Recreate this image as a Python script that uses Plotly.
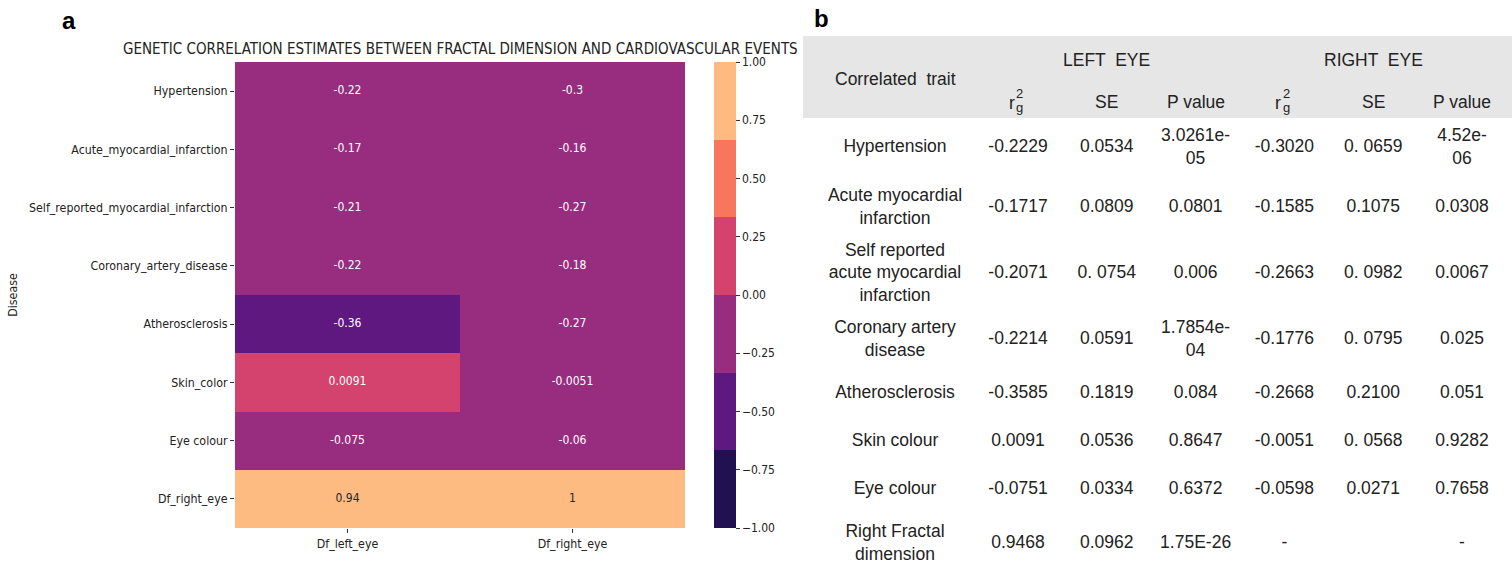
import numpy as np
import plotly.graph_objects as go

# ---------------- data: panel a (heatmap) ----------------
diseases = ["Hypertension", "Acute_myocardial_infarction", "Self_reported_myocardial_infarction",
            "Coronary_artery_disease", "Atherosclerosis", "Skin_color", "Eye colour", "Df_right_eye"]
eyes = ["Df_left_eye", "Df_right_eye"]
rg_left_eye = [-0.22, -0.17, -0.21, -0.22, -0.36, 0.0091, -0.075, 0.94]
rg_right_eye = [-0.3, -0.16, -0.27, -0.18, -0.27, -0.0051, -0.06, 1.0]
cbar_ticks = [-1.0, -0.75, -0.5, -0.25, 0.0, 0.25, 0.5, 0.75, 1.0]
title_a = "GENETIC CORRELATION ESTIMATES BETWEEN FRACTAL DIMENSION AND CARDIOVASCULAR EVENTS"

# ---------------- data: panel b (table) ----------------
traits = ["Hypertension", "Acute myocardial<br>infarction", "Self reported<br>acute myocardial<br>infarction",
          "Coronary artery<br>disease", "Atherosclerosis", "Skin colour", "Eye colour",
          "Right Fractal<br>dimension"]
table_cols = ["rg_L", "se_L", "p_L", "rg_R", "se_R", "p_R"]
rg_L = ["-0.2229", "-0.1717", "-0.2071", "-0.2214", "-0.3585", "0.0091", "-0.0751", "0.9468"]
se_L = ["0.0534", "0.0809", "0. 0754", "0.0591", "0.1819", "0.0536", "0.0334", "0.0962"]
p_L = ["3.0261e-<br>05", "0.0801", "0.006", "1.7854e-<br>04", "0.084", "0.8647", "0.6372", "1.75E-26"]
rg_R = ["-0.3020", "-0.1585", "-0.2663", "-0.1776", "-0.2668", "-0.0051", "-0.0598", "-"]
se_R = ["0. 0659", "0.1075", "0. 0982", "0. 0795", "0.2100", "0. 0568", "0.0271", ""]
p_R = ["4.52e-<br>06", "0.0308", "0.0067", "0.025", "0.051", "0.9282", "0.7658", "-"]
group_headers = {"se_L": "LEFT  EYE", "se_R": "RIGHT  EYE"}
sub_headers = {"se_L": "SE", "p_L": "P value", "se_R": "SE", "p_R": "P value"}

# ---------------- styling ----------------
W, H = 1512, 565
magma6 = ["#221150", "#5f187f", "#982d80", "#d3436e", "#f8765c", "#febb81"]
colorscale = []
for i, c in enumerate(magma6):
    colorscale.append([i / 6, c])
    colorscale.append([(i + 1) / 6, c])

HM_FONT = "DejaVu Sans Condensed, Liberation Sans Narrow, DejaVu Sans"
TB_FONT = "Liberation Sans, Arial"
TB_SIZE = 17.5
HM_TICK = 12.3
TXT = "#222"

def px_x(p):
    return p / W

def px_y(p):
    return (H - p) / H

fig = go.Figure()

# heatmap
z = [[l, r] for l, r in zip(rg_left_eye, rg_right_eye)]
fig.add_trace(go.Heatmap(
    x=eyes, y=diseases, z=z, zmin=-1, zmax=1, colorscale=colorscale,
    xaxis="x", yaxis="y", hoverinfo="skip",
    colorbar=dict(
        x=px_x(714), xanchor="left", y=px_y(62), yanchor="top", xpad=0, ypad=0,
        len=(528 - 62) / H, lenmode="fraction", thickness=22,
        outlinewidth=0, tickmode="array", tickvals=cbar_ticks,
        ticktext=[f"{t:.2f}".replace("-", "\u2212") for t in cbar_ticks],
        ticks="outside", ticklen=4, tickcolor="#333", tickwidth=1,
        tickfont=dict(family=HM_FONT, size=12, color=TXT),
    ),
))

# annotations in heatmap cells
ann_x, ann_y, ann_t, ann_c = [], [], [], []
for d, l, r in zip(diseases, rg_left_eye, rg_right_eye):
    for e, v in zip(eyes, (l, r)):
        ann_x.append(e)
        ann_y.append(d)
        ann_t.append(f"{v:.2g}")
        ann_c.append("#262626" if v > 2 / 3 else "#ffffff")
fig.add_trace(go.Scatter(
    x=ann_x, y=ann_y, text=ann_t, mode="text", xaxis="x", yaxis="y",
    textfont=dict(family=HM_FONT, size=12, color=ann_c), hoverinfo="skip", showlegend=False,
))

# ---------------- table ----------------
columns_data = [rg_L, se_L, p_L, rg_R, se_R, p_R]
rows_all = list(zip(traits, *columns_data))
nlines = [max(s.count("<br>") + 1 for s in row) for row in rows_all]
row_h = np.array([36 + 12 * n for n in nlines], dtype=float)
row_c = np.cumsum(row_h) - row_h / 2
header_h = 82
table_top = 36

fig.add_trace(go.Scatter(
    x=["trait"] * len(traits), y=row_c, text=traits, mode="text", xaxis="x3", yaxis="y2",
    textfont=dict(family=TB_FONT, size=TB_SIZE, color=TXT), hoverinfo="skip", showlegend=False,
))
for col, vals in zip(table_cols, columns_data):
    fig.add_trace(go.Scatter(
        x=[col] * len(vals), y=row_c, text=vals, mode="text", xaxis="x2", yaxis="y2",
        textfont=dict(family=TB_FONT, size=TB_SIZE, color=TXT), hoverinfo="skip", showlegend=False,
    ))

annotations = []
# header texts
annotations.append(dict(text="Correlated  trait", x="trait", y=-header_h / 2 + 2, xref="x3", yref="y2",
                        xanchor="center", yanchor="middle", showarrow=False,
                        font=dict(family=TB_FONT, size=TB_SIZE, color=TXT)))
for col, txt in group_headers.items():
    annotations.append(dict(text=txt, x=col, y=-header_h + 24, xref="x2", yref="y2", showarrow=False,
                            xanchor="center", yanchor="middle",
                            font=dict(family=TB_FONT, size=TB_SIZE, color=TXT)))
for col, txt in sub_headers.items():
    annotations.append(dict(text=txt, x=col, y=-16, xref="x2", yref="y2", showarrow=False,
                            xanchor="center", yanchor="middle",
                            font=dict(family=TB_FONT, size=TB_SIZE, color=TXT)))
for col in ("rg_L", "rg_R"):
    annotations.append(dict(text="r", x=col, y=-15, xref="x2", yref="y2", showarrow=False, xshift=-6,
                            xanchor="center", yanchor="middle",
                            font=dict(family=TB_FONT, size=TB_SIZE, color=TXT)))
    annotations.append(dict(text="2", x=col, y=-25, xref="x2", yref="y2", showarrow=False, xshift=2,
                            xanchor="center", yanchor="middle",
                            font=dict(family=TB_FONT, size=13, color=TXT)))
    annotations.append(dict(text="g", x=col, y=-11, xref="x2", yref="y2", showarrow=False, xshift=2,
                            xanchor="center", yanchor="middle",
                            font=dict(family=TB_FONT, size=13, color=TXT)))

# panel labels and heatmap title
annotations.append(dict(text="<b>a</b>", x=px_x(69), y=px_y(20), xref="paper", yref="paper",
                        xanchor="center", yanchor="middle", showarrow=False,
                        font=dict(family="Liberation Sans, Arial", size=24, color="#000")))
annotations.append(dict(text="<b>b</b>", x=px_x(822), y=px_y(19), xref="paper", yref="paper",
                        xanchor="center", yanchor="middle", showarrow=False,
                        font=dict(family="Liberation Sans, Arial", size=24, color="#000")))
annotations.append(dict(text=title_a, x=px_x(460), y=px_y(49), xref="paper", yref="paper",
                        xanchor="center", yanchor="middle", showarrow=False,
                        font=dict(family=HM_FONT, size=15, color=TXT)))

shapes = [dict(type="rect", xref="paper", yref="y2", x0=px_x(803), x1=1.0, y0=-header_h, y1=0,
               fillcolor="#e6e6e6", line=dict(width=0), layer="below")]

col_w = 88.8
x2_left = 1018 - col_w / 2
fig.update_layout(
    width=W, height=H, margin=dict(l=0, r=0, t=0, b=0, autoexpand=False),
    paper_bgcolor="white", plot_bgcolor="rgba(0,0,0,0)", showlegend=False,
    annotations=annotations, shapes=shapes,
    xaxis=dict(domain=[px_x(235), px_x(685)], anchor="y", type="category", categoryarray=eyes,
               ticks="outside", ticklen=4, tickcolor="#333", showgrid=False, zeroline=False,
               showline=False, automargin=False, tickfont=dict(family=HM_FONT, size=HM_TICK, color=TXT)),
    yaxis=dict(domain=[px_y(528), px_y(62)], anchor="x", type="category", categoryarray=diseases,
               autorange="reversed", ticks="outside", ticklen=4, tickcolor="#333", showgrid=False,
               zeroline=False, showline=False, automargin=False,
               tickfont=dict(family=HM_FONT, size=HM_TICK, color=TXT),
               title=dict(text="Disease", font=dict(family=HM_FONT, size=HM_TICK, color=TXT), standoff=8)),
    xaxis2=dict(domain=[px_x(x2_left), px_x(x2_left + 6 * col_w)], anchor="y2", type="category",
                categoryarray=table_cols, range=[-0.5, 5.5], visible=False, automargin=False),
    xaxis3=dict(domain=[px_x(803), px_x(987)], anchor="y2", type="category",
                categoryarray=["trait"], range=[-0.5, 0.5], visible=False, automargin=False),
    yaxis2=dict(domain=[0, px_y(table_top)], anchor="x2", range=[H - table_top - header_h, -header_h],
                visible=False, automargin=False),
)

fig.write_html("out.html", config={"displayModeBar": False},
               post_script="document.body.style.margin='0';")
